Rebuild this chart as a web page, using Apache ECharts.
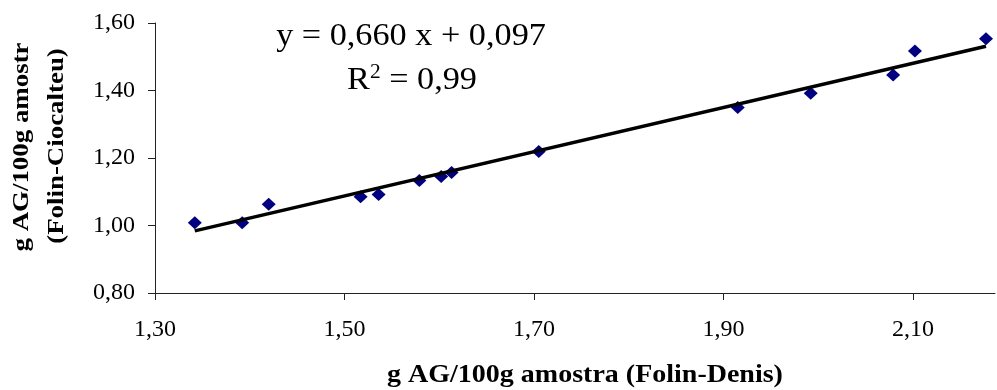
<!DOCTYPE html>
<html>
<head>
<meta charset="utf-8">
<script src="https://cdn.jsdelivr.net/npm/echarts@6/dist/echarts.min.js"></script>
<style>html,body{margin:0;padding:0;background:#fff}#c{width:997px;height:390px}</style>
</head>
<body>
<div id="c"></div>
<script>
const xValues = [1.342, 1.392, 1.420, 1.517, 1.536, 1.579, 1.602, 1.613, 1.705, 1.915, 1.992, 2.079, 2.102, 2.177];
const yValues = [1.008, 1.008, 1.063, 1.085, 1.092, 1.133, 1.145, 1.157, 1.219, 1.350, 1.392, 1.446, 1.517, 1.553];
const trendX = [1.342, 2.177];
const trendY = [0.984, 1.531];
const xTicks = [1.30, 1.50, 1.70, 1.90, 2.10];
const yTicks = [0.80, 1.00, 1.20, 1.40, 1.60];
const xTitle = 'g AG/100g amostra (Folin-Denis)';
const yTitle1 = 'g AG/100g amostr';
const yTitle2 = '(Folin-Ciocalteu)';
const eqLine1 = 'y = 0,660 x + 0,097';
const eqLine2 = 'R{sup|2} = 0,99';

const fmt = v => v.toFixed(2).replace('.', ',');
const serif = '"Liberation Serif", "Times New Roman", serif';

const chart = echarts.init(document.getElementById('c'), null, {renderer: 'canvas'});
chart.setOption({
  animation: false,
  backgroundColor: '#fff',
  grid: {left: 155, right: 2, top: 23, bottom: 97, containLabel: false},
  xAxis: {
    type: 'value', min: 1.30, max: 2.1865, interval: 0.2,
    axisLine: {show: true, onZero: false, lineStyle: {color: '#222', width: 1}},
    axisTick: {show: true, length: 7, customValues: xTicks, lineStyle: {color: '#222'}},
    axisLabel: {customValues: xTicks, formatter: fmt, margin: 25, color: '#000', fontFamily: serif, fontSize: 24},
    splitLine: {show: false}
  },
  yAxis: {
    type: 'value', min: 0.80, max: 1.60, interval: 0.2,
    axisLine: {show: true, onZero: false, lineStyle: {color: '#222', width: 1}},
    axisTick: {show: true, length: 7, customValues: yTicks, lineStyle: {color: '#222'}},
    axisLabel: {customValues: yTicks, formatter: fmt, margin: 20, color: '#000', fontFamily: serif, fontSize: 24},
    splitLine: {show: false}
  },
  graphic: [
    {type: 'text', x: 585, y: 376, scaleX: 1.12, style: {text: xTitle, x: 0, y: 0, align: 'center', verticalAlign: 'middle', font: 'bold 25px ' + serif, fill: '#000'}},
    {type: 'text', x: 22, y: 147, rotation: Math.PI / 2, scaleX: 1.12, style: {text: yTitle1, x: 0, y: 0, align: 'center', verticalAlign: 'middle', font: 'bold 24px ' + serif, fill: '#000'}},
    {type: 'text', x: 57, y: 146, rotation: Math.PI / 2, scaleX: 1.12, style: {text: yTitle2, x: 0, y: 0, align: 'center', verticalAlign: 'middle', font: 'bold 24px ' + serif, fill: '#000'}},
    {type: 'text', x: 411, y: 37, scaleX: 1.07, style: {text: eqLine1, x: 0, y: 0, align: 'center', verticalAlign: 'middle', font: '32px ' + serif, fill: '#000'}},
    {type: 'text', x: 412, y: 81, scaleX: 1.07, style: {text: eqLine2, x: 0, y: 0, align: 'center', verticalAlign: 'middle', font: '32px ' + serif, fill: '#000',
      rich: {sup: {fontSize: 20, verticalAlign: 'top', padding: [0, 0, 16, 0], fontFamily: serif}}}}
  ],
  series: [
    {
      type: 'line', data: trendX.map((x, i) => [x, trendY[i]]),
      showSymbol: false, symbol: 'none', lineStyle: {color: '#000', width: 3.5}, z: 3
    },
    {
      type: 'scatter', data: xValues.map((x, i) => [x, yValues[i]]),
      symbol: 'diamond', symbolSize: [14, 13], itemStyle: {color: '#000080', opacity: 1}, z: 2
    }
  ]
});
</script>
</body>
</html>
